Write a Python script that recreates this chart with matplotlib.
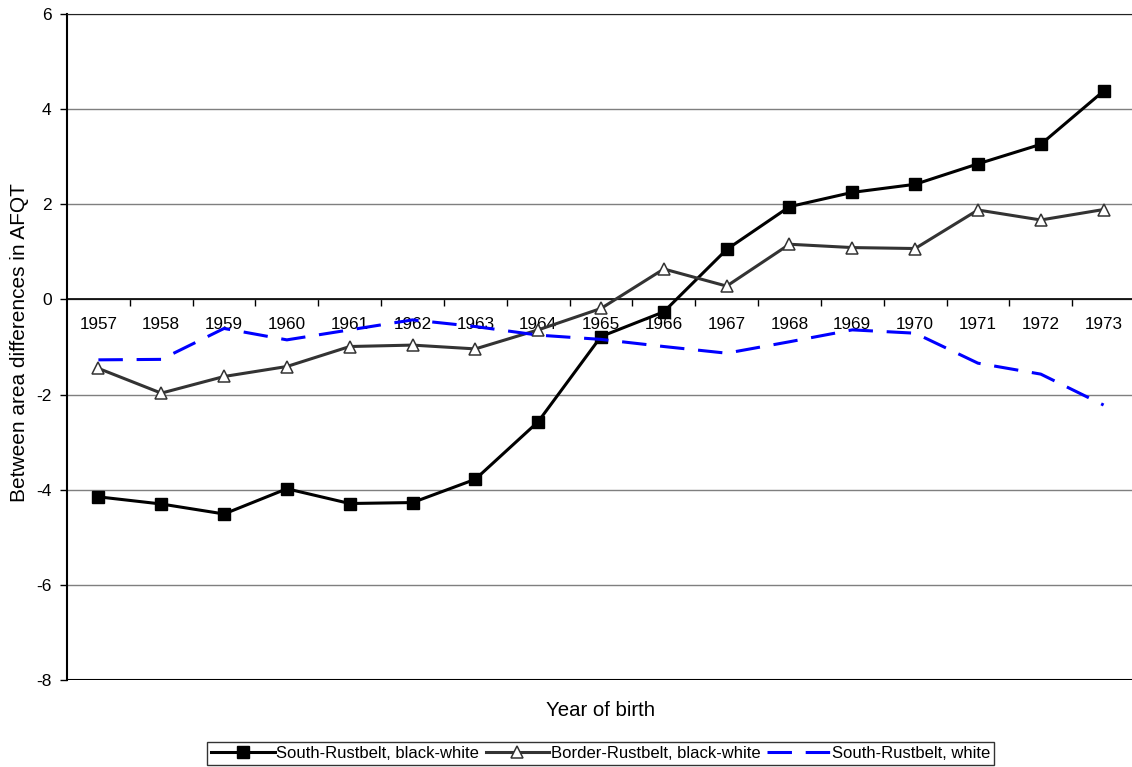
import numpy as np
import matplotlib.pyplot as plt

plt.rcParams['font.family'] = ['Liberation Sans', 'DejaVu Sans']
plt.rcParams['axes.unicode_minus'] = False

years = [str(y) for y in range(1957, 1974)]

# South-Rustbelt, black-white
south_bw = [-4.15, -4.30, -4.51, -3.98, -4.29, -4.27, -3.78, -2.57, -0.78, -0.26,
            1.05, 1.95, 2.25, 2.42, 2.85, 3.26, 4.38]
# Border-Rustbelt, black-white
border_bw = [-1.45, -1.97, -1.62, -1.41, -0.99, -0.96, -1.04, -0.64, -0.19, 0.64,
             0.28, 1.16, 1.09, 1.07, 1.88, 1.67, 1.89]
# South-Rustbelt, white
south_w = [-1.27, -1.26, -0.61, -0.85, -0.64, -0.43, -0.57, -0.75, -0.84, -0.99,
           -1.13, -0.89, -0.64, -0.71, -1.34, -1.57, -2.22]

W, H = 1132, 767
fig = plt.figure(figsize=(W / 100, H / 100), dpi=100)
ax = fig.add_axes([67 / W, 1 - 680 / H, 1068 / W, 666 / H])

x = np.arange(len(years))

ax.plot(x, south_bw, color='black', lw=2.2, marker='s', ms=8.3,
        mfc='black', mec='black', zorder=4, label='South-Rustbelt, black-white')
ax.plot(x, border_bw, color='#333333', lw=2.2, marker='^', ms=9,
        mfc='white', mec='#333333', mew=1.1, zorder=4,
        label='Border-Rustbelt, black-white')
ax.plot(x, south_w, color='#0000ff', lw=2.2, dashes=(8, 4.5), zorder=4,
        label='South-Rustbelt, white')

ax.set_xlim(-0.5, len(years) - 0.5)
ax.set_ylim(-8, 6)
ax.set_yticks(range(-8, 7, 2))
ax.yaxis.grid(True, color='#7f7f7f', lw=1)
ax.set_axisbelow(True)
ax.tick_params(axis='y', labelsize=12.5, length=5, width=1, direction='out', pad=6)

# category axis crossing at zero, labels under the line
ax.spines['bottom'].set_position(('data', 0))
ax.spines['bottom'].set_linewidth(1.2)
ax.spines['right'].set_visible(False)
ax.spines['left'].set_linewidth(1.5)
ax.spines['top'].set_color('#222222')
ax.axhline(-8, color='black', lw=1.5, zorder=3)
ax.set_xticks(np.arange(0.5, len(years) - 1, 1.0))
ax.set_xticklabels([])
ax.set_xticks(x, minor=True)
ax.set_xticklabels(years, minor=True)
ax.tick_params(axis='x', which='major', length=5, width=1, direction='out')
ax.tick_params(axis='x', which='minor', length=0, labelsize=12.3, pad=13)

fig.text(601 / W, 1 - 710 / H, 'Year of birth', fontsize=14.7,
         ha='center', va='center')
fig.text(20 / W, 1 - 343 / H, 'Between area differences in AFQT', fontsize=15,
         rotation=90, ha='center', va='center')

leg = fig.legend(loc='upper left', bbox_to_anchor=(207 / W, 1 - 742 / H),
                 ncol=3, fontsize=12, frameon=True, fancybox=False,
                 handlelength=3.8, handletextpad=0.1, columnspacing=0.4,
                 borderpad=0.25, borderaxespad=0)
leg.get_frame().set_edgecolor('black')
leg.get_frame().set_linewidth(1)

fig.savefig('out.png', dpi=100)
